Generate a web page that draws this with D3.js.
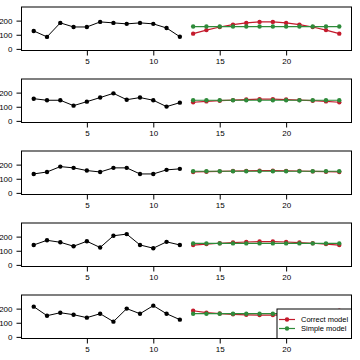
<!DOCTYPE html>
<html>
<head>
<meta charset="utf-8">
<script src="https://cdn.jsdelivr.net/npm/d3@7"></script>
<style>
  html, body { margin: 0; padding: 0; background: #fff; }
  svg { display: block; }
  svg text { font-family: "Liberation Sans", Arial, Helvetica, sans-serif !important; }
</style>
</head>
<body>
<div id="chart"></div>
<script>
// ---- data ----
const histT = [1,2,3,4,5,6,7,8,9,10,11,12];
const foreT = [13,14,15,16,17,18,19,20,21,22,23,24];
const observed = [
  [127, 85, 184, 155, 155, 191, 184, 177, 184, 177, 148, 86],
  [157, 146, 146, 108, 136, 165, 195, 150, 165, 146, 101, 129],
  [134, 148, 186, 177, 158, 148, 177, 177, 134, 134, 163, 170],
  [141, 174, 160, 132, 167, 123, 206, 218, 141, 118, 163, 141],
  [214, 150, 171, 157, 136, 164, 108, 200, 164, 221, 164, 122]
];
const correctModel = [
  [108, 133, 155, 172, 184, 191, 191, 184, 172, 155, 133, 108],
  [132, 138, 143, 147, 151, 154, 154, 151, 147, 143, 138, 132],
  [148, 150, 152, 155, 156, 157, 157, 156, 155, 152, 150, 148],
  [140, 147, 153, 158, 162, 165, 165, 162, 158, 153, 147, 140],
  [185, 172, 165, 160, 156, 154, 154, 156, 160, 165, 172, 185]
];
const simpleModel = [
  [158, 158, 158, 158, 158, 158, 158, 158, 158, 158, 158, 158],
  [146, 146, 146, 146, 146, 146, 146, 146, 146, 146, 146, 146],
  [153, 153, 153, 153, 153, 153, 153, 153, 153, 153, 153, 153],
  [152, 152, 152, 152, 152, 152, 152, 152, 152, 152, 152, 152],
  [164, 164, 164, 164, 164, 164, 164, 164, 164, 164, 164, 164]
];
const xTicks = [5, 10, 15, 20];
const yTicks = [0, 100, 200];
const seriesNames = ["Correct model", "Simple model"];
const seriesColors = ["#c41a2c", "#2e8b3a"];

// ---- layout ----
const W = 360, H = 360;
const svg = d3.select("#chart").append("svg").attr("width", W).attr("height", H);

const x = d3.scaleLinear().domain([0.08, 24.92]).range([21.5, 351.5]);
const panelTop = 7, panelH = 43.5, panelStep = 72;
const fontSize = 8;
const FONT = '"Liberation Sans", Arial, Helvetica, sans-serif';

observed.forEach((obs, i) => {
  const top = panelTop + i * panelStep;
  const bottom = top + panelH;
  const y = d3.scaleLinear().domain([-11.4, 296.4]).range([bottom, top]);
  const g = svg.append("g");

  // box
  g.append("rect")
    .attr("x", x.range()[0]).attr("y", top)
    .attr("width", x.range()[1] - x.range()[0]).attr("height", panelH)
    .attr("fill", "none").attr("stroke", "#000").attr("stroke-width", 1);

  // x axis
  const xa = g.append("g").attr("transform", `translate(0,${bottom})`)
    .call(d3.axisBottom(x).tickValues(xTicks).tickSize(5).tickPadding(3).tickFormat(d3.format("d")));
  xa.attr("font-family", FONT).attr("font-size", fontSize);
  xa.select(".domain").remove();
  xa.selectAll("text").attr("fill", "#000");

  // y axis
  const ya = g.append("g").attr("transform", `translate(${x.range()[0]},0)`)
    .call(d3.axisLeft(y).tickValues(yTicks).tickSize(5).tickPadding(4).tickFormat(d3.format("d")));
  ya.attr("font-family", FONT).attr("font-size", fontSize);
  ya.select(".domain").remove();
  ya.selectAll("text").attr("fill", "#000");

  const line = d3.line().x(d => x(d[0])).y(d => y(d[1]));

  // observed
  const obsPts = histT.map((t, k) => [t, obs[k]]);
  g.append("path").attr("d", line(obsPts)).attr("fill", "none").attr("stroke", "#000").attr("stroke-width", 1);
  g.selectAll("circle.obs").data(obsPts).enter().append("circle")
    .attr("cx", d => x(d[0])).attr("cy", d => y(d[1])).attr("r", 2.2).attr("fill", "#000");

  // forecasts
  [correctModel[i], simpleModel[i]].forEach((vals, s) => {
    const pts = foreT.map((t, k) => [t, vals[k]]);
    g.append("path").attr("d", line(pts)).attr("fill", "none")
      .attr("stroke", seriesColors[s]).attr("stroke-width", 1.2);
    g.selectAll(null).data(pts).enter().append("circle")
      .attr("cx", d => x(d[0])).attr("cy", d => y(d[1])).attr("r", 2.2).attr("fill", seriesColors[s]);
  });

  // legend in last panel
  if (i === observed.length - 1) {
    const lx0 = 277, ly0 = 309, lx1 = x.range()[1], ly1 = bottom;
    const lg = g.append("g");
    lg.append("rect").attr("x", lx0).attr("y", ly0).attr("width", lx1 - lx0).attr("height", ly1 - ly0)
      .attr("fill", "#fff").attr("stroke", "#000").attr("stroke-width", 1);
    seriesNames.forEach((name, s) => {
      const cy = 319.5 + s * 9;
      lg.append("line").attr("x1", 279).attr("x2", 295).attr("y1", cy).attr("y2", cy)
        .attr("stroke", seriesColors[s]).attr("stroke-width", 1.2);
      lg.append("circle").attr("cx", 287).attr("cy", cy).attr("r", 2.2).attr("fill", seriesColors[s]);
      lg.append("text").attr("x", 301).attr("y", cy).attr("dy", "0.35em")
        .attr("font-family", FONT).attr("font-size", 7.5).attr("fill", "#000").text(name);
    });
  }
});
</script>
</body>
</html>
